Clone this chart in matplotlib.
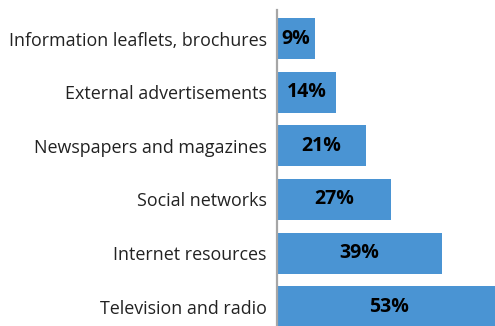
import matplotlib
matplotlib.use('Agg')
import matplotlib.pyplot as plt

categories = ['Information leaflets, brochures', 'External advertisements',
              'Newspapers and magazines', 'Social networks',
              'Internet resources', 'Television and radio']
values = [9, 14, 21, 27, 39, 53]

plt.rcParams['font.family'] = ['Open Sans', 'DejaVu Sans']

fig = plt.figure(figsize=(4.95, 3.26), dpi=100)
ax = fig.add_axes([277 / 495, 0, 218 / 495, 316 / 326])

pos = list(range(len(categories)))
ax.barh(pos, values, height=0.765, color='#4a94d3', zorder=2)
for p, v in zip(pos, values):
    ax.text(v / 2, p, f'{v}%', ha='center', va='center',
            fontsize=14, fontweight='bold', color='black')

ax.set_xlim(0, 51.5)
ax.set_ylim(5.36, -0.532)
ax.set_yticks(pos)
ax.set_yticklabels(categories, fontsize=12.9, color='#222222')
ax.tick_params(axis='y', length=0, pad=7.5)
ax.set_xticks([])
for s in ['top', 'right', 'bottom']:
    ax.spines[s].set_visible(False)
ax.spines['left'].set_color('#a6a6a6')
ax.spines['left'].set_linewidth(1.6)
ax.spines['left'].set_zorder(3)

fig.savefig('out.png', dpi=100)
